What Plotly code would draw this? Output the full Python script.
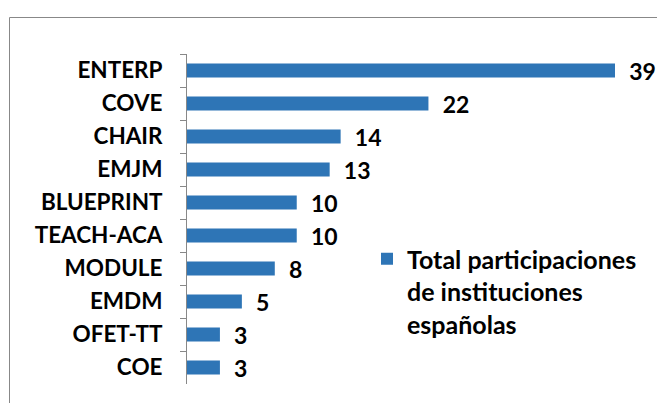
import plotly.graph_objects as go

categories = ["ENTERP", "COVE", "CHAIR", "EMJM", "BLUEPRINT", "TEACH-ACA",
              "MODULE", "EMDM", "OFET-TT", "COE"]
values = [39, 22, 14, 13, 10, 10, 8, 5, 3, 3]
series_name = "Total participaciones<br>de instituciones<br>españolas"

FONT = "Lato"
W, H = 657, 403
ML, MR, MT, MB = 187, 0, 54, 19
pw = W - ML - MR
ph = H - MT - MB

fig = go.Figure(go.Bar(
    y=categories, x=values, orientation="h",
    marker=dict(color="#2E75B6", line=dict(width=0)),
    width=0.43,
    text=values, textposition="outside",
    texttemplate="  %{x}",
    constraintext="none",
    textfont=dict(family=FONT, size=23, color="black", weight="bold"),
    cliponaxis=False,
    name=series_name, showlegend=True,
))

def px_x(p):
    return (p - ML) / pw

def px_y(p):
    return (H - MB - p) / ph

fig.add_shape(type="rect", xref="paper", yref="paper",
              x0=px_x(9.5), x1=px_x(700), y0=px_y(450), y1=px_y(17.5),
              line=dict(color="#888888", width=1), fillcolor="rgba(0,0,0,0)",
              layer="below")

fig.update_layout(
    width=W, height=H,
    margin=dict(l=ML, r=MR, t=MT, b=MB, autoexpand=False),
    paper_bgcolor="white", plot_bgcolor="white",
    xaxis=dict(range=[0, 470 / (428 / 39)], visible=False, showgrid=False, fixedrange=True),
    yaxis=dict(autorange="reversed", showline=True, linecolor="#888888", linewidth=1,
               ticks="outside", ticklen=6, tickcolor="#888888", tickwidth=1,
               tickson="boundaries", ticklabelstandoff=19, showgrid=False,
               tickfont=dict(family=FONT, size=22.5, color="black", weight="bold")),
    legend=dict(x=px_x(367), y=px_y(236), xanchor="left", yanchor="top",
                valign="top", bgcolor="rgba(0,0,0,0)",
                font=dict(family=FONT, size=25, color="black", weight="bold")),
    showlegend=True,
)

fig.write_html("out.html", config={"displayModeBar": False},
               post_script="document.body.style.margin='0';document.body.style.padding='0';")
